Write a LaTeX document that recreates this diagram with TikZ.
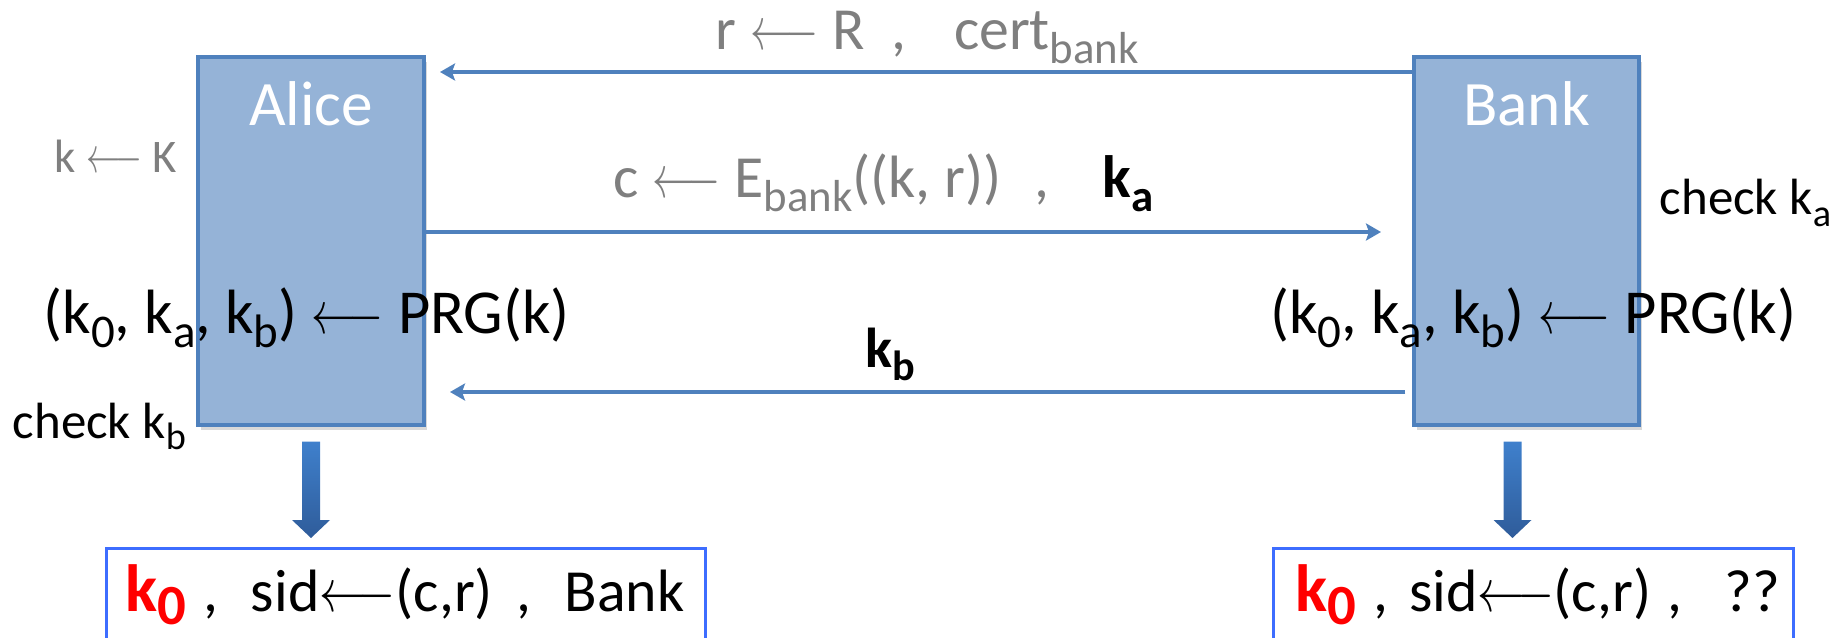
\documentclass[tikz,border=0pt]{standalone}
\usepackage{fontspec}
\setmainfont{Carlito}
\usetikzlibrary{arrows.meta,positioning,calc,shadows}

\definecolor{partyfill}{HTML}{95B3D7}
\definecolor{partyline}{HTML}{4F81BD}
\definecolor{msgblue}{HTML}{4F81BD}
\definecolor{outline}{HTML}{3D6DFF}
\definecolor{fattop}{HTML}{3F80CC}
\definecolor{fatbot}{HTML}{2F5C9A}
\definecolor{txtgray}{HTML}{7F7F7F}
\definecolor{keyred}{HTML}{FF0000}

% subscripts and arrows in the labels
\newcommand{\lowtx}[1]{\raisebox{-0.22em}{\scalebox{0.75}{#1}}}
\newcommand{\getsarr}[1]{\scalebox{#1}[1]{$\longleftarrow$}}
\newcommand{\keyzero}{\textcolor{keyred}{\bfseries\fontsize{19}{22}\selectfont k\raisebox{-0.2em}{\scalebox{0.85}{0}}}}
% fat shaded arrow from top point #1 down to tip #2
\newcommand{\fatdown}[2]{%
  \shade[top color=fattop, bottom color=fatbot]
    ($(#1)+(-9,0)$) -- ($(#1)+(9,0)$) -- ($(#2)+(9,18)$) -- ($(#2)+(19,18)$)
    -- (#2) -- ($(#2)+(-19,18)$) -- ($(#2)+(-9,18)$) -- cycle;}

\tikzset{
  party/.style={rectangle, fill=partyfill, draw=partyline, line width=0.9pt,
    minimum height=36.8mm,
    drop shadow={shadow xshift=0.3mm, shadow yshift=-0.5mm, fill=black, opacity=0.15}},
  partyname/.style={text=white, font=\fontsize{18}{21}\selectfont, inner sep=0pt},
  msg/.style={draw=msgblue, line width=1.2pt,
    -{Stealth[length=1.5mm, width=1.7mm, inset=0.3mm]}},
  graytxt/.style={text=txtgray, font=\fontsize{17}{20}\selectfont, inner sep=0pt, anchor=base west},
  plaintxt/.style={font=\fontsize{17}{20}\selectfont, inner sep=0pt},
  prgtxt/.style={font=\fontsize{17.8}{21}\selectfont, inner sep=0pt},
  smalltxt/.style={font=\fontsize{14.5}{17}\selectfont, inner sep=0pt, anchor=base west},
  outbox/.style={rectangle, draw=outline, line width=0.8pt, minimum height=11mm, anchor=north west}
}

\begin{document}
\begin{tikzpicture}[x=0.1mm, y=0.1mm]
    \useasboundingbox (0,0) rectangle (1837,637);
    \clip (0,0) rectangle (1837,637);

    % -------------------------
    % Alice and Bank
    % -------------------------
    \node[party, minimum width=22.6mm] (alice) at (311,396) {};
    \node[party, minimum width=22.5mm] (bank) at (1526.5,396) {};
    \node[partyname, below=2.5mm of alice.north] (alicename) {Alice};
    \node[partyname, below=2.5mm of bank.north] (bankname) {Bank};

    % -------------------------
    % Messages
    % -------------------------
    \coordinate (certtip) at (440,565);
    \draw[msg] (bank.west |- certtip) -- (certtip);
    \node[graytxt] (msgcert) at (715,587)
        {r \getsarr{0.7} R\hspace{0.45em},\hspace{0.8em}cert\lowtx{bank}};

    \coordinate (ciphertip) at (1381,405);
    \draw[msg] (alice.east |- ciphertip) -- (ciphertip);
    \node[graytxt] (msgcipher) at (613,439)
        {c \getsarr{0.7} E\lowtx{bank}((k, r))\hspace{0.55em},\hspace{0.9em}\textcolor{black}{\bfseries k\lowtx{a}}};

    \coordinate (kbtip) at (450,245);
    \coordinate (kbstart) at ($(bank.west |- kbtip)+(-7,0)$);
    \draw[msg] (kbstart) -- (kbtip);
    \node[plaintxt, font=\bfseries\fontsize{16}{19}\selectfont, anchor=base west] (msgkb) at (865,269) {k\lowtx{b}};

    % -------------------------
    % Local steps
    % -------------------------
    \node[graytxt, font=\fontsize{13.3}{16}\selectfont] (keygen) at (54,464) {k \getsarr{0.68} K};
    \node[prgtxt, anchor=base west] (prgalice) at (43,303)
        {(k\lowtx{0}, k\lowtx{a}, k\lowtx{b}) \getsarr{0.74} PRG(k)};
    \node[prgtxt, anchor=base east] (prgbank) at (1797,303)
        {(k\lowtx{0}, k\lowtx{a}, k\lowtx{b}) \getsarr{0.74} PRG(k)};
    \node[smalltxt] (checka) at (1659,422) {check k\lowtx{a}};
    \node[smalltxt] (checkb) at (12,199) {check k\lowtx{b}};

    % -------------------------
    % Outputs
    % -------------------------
    \node[outbox, minimum width=59.9mm] (outalice) at (105,90) {};
    \node[outbox, minimum width=52mm] (outbank) at (1272,90) {};
    \node[plaintxt, anchor=base west] (resalice) at (125,26)
        {\keyzero\hspace{0.28em},\hspace{0.55em}sid\getsarr{0.78}(c,r)\hspace{0.4em},\hspace{0.55em}Bank};
    \node[plaintxt, anchor=base west] (resbank) at (1295,26)
        {\keyzero\hspace{0.28em},\hspace{0.35em}sid\getsarr{0.78}(c,r)\hspace{0.28em},\hspace{0.7em}??};

    \coordinate (atop) at ($(alice.south)+(0,-15)$);
    \coordinate (atip) at ($(atop |- outalice.north)+(0,9)$);
    \fatdown{atop}{atip}
    \coordinate (btop) at ($(bank.south)+(-14,-15)$);
    \coordinate (btip) at ($(btop |- outbank.north)+(0,9)$);
    \fatdown{btop}{btip}

\end{tikzpicture}
\end{document}
